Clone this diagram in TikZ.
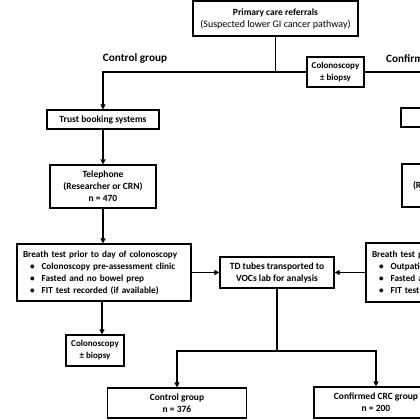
\documentclass[tikz,border=0pt]{standalone}
\usepackage{fontspec}
\setmainfont{Carlito}
\usetikzlibrary{arrows.meta}
\begin{document}
\begin{tikzpicture}[x=1pt,y=-1pt,
  box/.style={draw, line width=1.3pt, align=center, inner sep=1pt, font=\fontsize{9.5}{12}\selectfont\bfseries},
  lbox/.style={box, align=left, inner xsep=3pt, text width=168pt, font=\fontsize{9.2}{12}\selectfont\bfseries},
  small/.style={font=\fontsize{9}{12}\selectfont\bfseries},
  arr/.style={line width=1.3pt, -{Triangle[length=5pt,width=5pt]}},
  ln/.style={line width=1.3pt},
  grp/.style={font=\fontsize{11.2}{13}\selectfont\bfseries, inner sep=0pt}]
\useasboundingbox (0,0) rectangle (420,420);
\clip (0,0) rectangle (420,420);
\fill[white] (0,0) rectangle (420,420);

\node[box, minimum width=165pt, minimum height=35pt] (pc) at (275.5,18.5) {Primary care referrals\\{\fontsize{10}{12}\selectfont\mdseries(Suspected lower GI cancer pathway)}};
\node[box, small, minimum width=57pt, minimum height=30pt] (col1) at (335.5,72) {Colonoscopy\\± biopsy};
\node[grp] (lc) at (135,59) {Control group};
\node[grp, anchor=west] (lr) at (386,60) {Confirmed CRC group};

\node[box, minimum width=112pt, minimum height=19pt] (trust) at (103,119.5) {Trust booking systems};
\node[box, minimum width=106pt, minimum height=43pt] (tel) at (103,186.5) {Telephone\\(Researcher or CRN)\\n = 470};
\node[lbox, minimum height=57pt] (bt) at (104,272.5) {\hspace*{3pt}Breath test prior to day of colonoscopy\\
\hspace*{10pt}\textbullet\hspace*{7pt}Colonoscopy pre-assessment clinic\\
\hspace*{10pt}\textbullet\hspace*{7pt}Fasted and no bowel prep\\
\hspace*{10pt}\textbullet\hspace*{7pt}FIT test recorded (if available)};
\node[box, small, minimum width=58pt, minimum height=31pt] (col2) at (95,350.5) {Colonoscopy\\± biopsy};
\node[box, minimum width=114pt, minimum height=31pt] (td) at (277,272.5) {TD tubes transported to\\VOCs lab for analysis};
\node[lbox, minimum height=59pt] (btr) at (453,272.5) {\hspace*{3pt}Breath test prior to colonoscopy\\
\hspace*{10pt}\textbullet\hspace*{7pt}Outpatient clinic\\
\hspace*{10pt}\textbullet\hspace*{7pt}Fasted and no bowel prep\\
\hspace*{10pt}\textbullet\hspace*{7pt}FIT test recorded (if available)};
\node[box, minimum width=112pt, minimum height=19pt] (rb1) at (457,117.5) {};
\node[box, minimum width=106pt, minimum height=43pt, text width=94pt, align=left] (rb2) at (455,185.5) {\hspace*{5pt}(Researcher or CRN)};
\node[box, minimum width=139pt, minimum height=30pt] (cg) at (177,403) {Control group\\n = 376};
\node[box, minimum width=124pt, minimum height=31pt] (crc) at (376,402.5) {Confirmed CRC group\\n = 200};

\coordinate (jT) at (275.5,72);
\coordinate (jL) at (103,72);
\coordinate (jR) at (440,72);
\coordinate (jB) at (277,351);
\coordinate (jBL) at (177,351);
\coordinate (jBR) at (376,351);

\draw[ln] (pc.south) -- (jT);
\draw[arr] (col1.west) -- (jL) -- (trust.north);
\draw[ln] (col1.east) -- (jR);
\draw[arr] (trust.south) -- (tel.north);
\draw[arr] (tel.south) -- ([xshift=-1pt]bt.north);
\draw[arr] (bt.east) -- (td.west);
\draw[arr] (btr.west) -- (td.east);
\draw[arr] ([xshift=-2pt]bt.south) -- ([xshift=-2pt]bt.south |- col2.north);
\draw[ln] (td.south) -- (jB);
\draw[arr] (jB) -- (jBL) -- (cg.north);
\draw[arr] (jB) -- (jBR) -- (crc.north);
\end{tikzpicture}
\end{document}
